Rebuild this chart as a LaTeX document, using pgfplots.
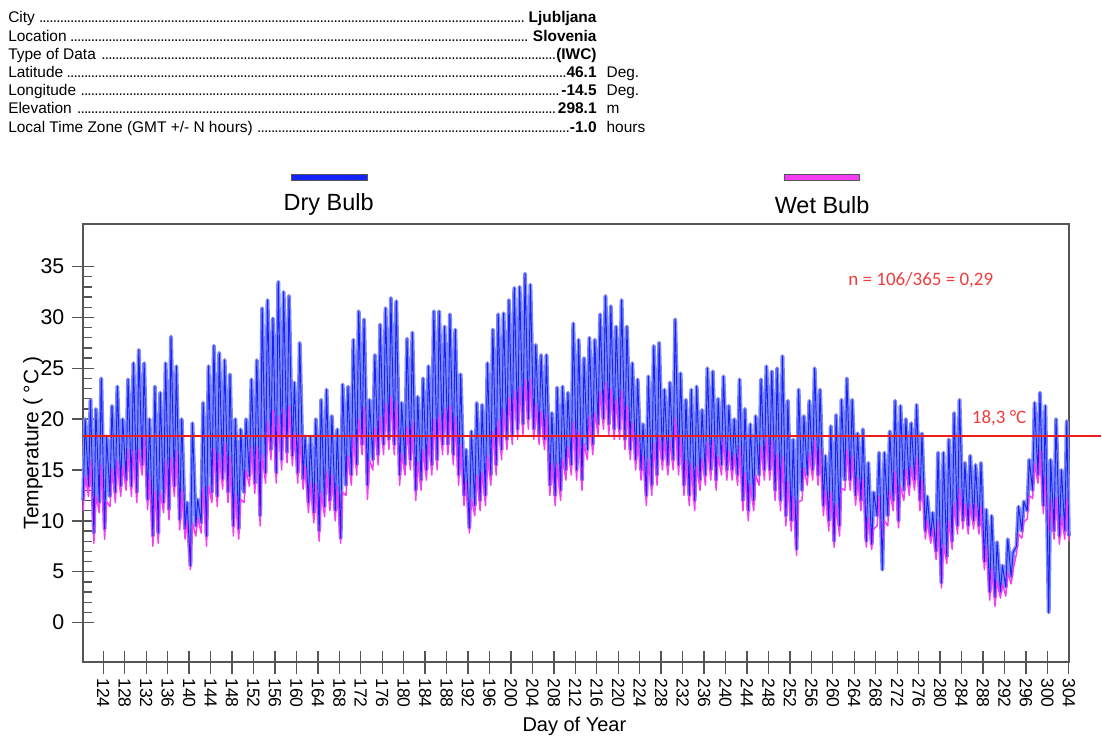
\documentclass[border=0pt]{standalone}
\usepackage{fontspec}
\setmainfont{Liberation Sans}
\newfontfamily\calib{Carlito}
\usepackage{pgfplots}
\usepackage{pgfplotstable}
\pgfplotsset{compat=1.18}

\definecolor{dbl}{RGB}{20,35,250}
\definecolor{lbl}{RGB}{128,138,246}
\definecolor{mag}{RGB}{245,60,245}
\definecolor{rline}{RGB}{235,30,30}
\definecolor{rtxt}{RGB}{240,60,60}
\definecolor{frame}{RGB}{85,85,85}

\newcommand{\dotlead}{\leaders\hbox to 2.6pt{\hss.\hss}\hfill}
\newcommand{\hfont}{\fontsize{11.6}{14}\selectfont}

\pgfplotstableread[row sep=\\]{
x y w\\
120.25 12 11 \\ 120.62 20 14.4 \\
121.25 13.4 12.4 \\ 121.62 21.9 15.9 \\
122.25 8.8 7.8 \\ 122.62 21 12.5 \\
123.25 11.8 10.8 \\ 123.62 24 15.5 \\
124.25 9.2 8.2 \\ 124.62 18.3 11.9 \\
125.25 12.4 11.4 \\ 125.62 21.3 15.1 \\
126.25 12.8 11.8 \\ 126.62 23.2 15.9 \\
127.25 13.4 12.4 \\ 127.62 20 15.4 \\
128.25 14 13 \\ 128.62 23.9 17 \\
129.25 13.4 12.4 \\ 129.62 25.5 17 \\
130.25 12.8 11.8 \\ 130.62 26.8 17 \\
131.25 15.5 14.5 \\ 131.62 25.5 18.5 \\
132.25 12.1 11.1 \\ 132.62 20 14.5 \\
133.25 8.5 7.5 \\ 133.62 23.2 12.9 \\
134.25 8.8 7.8 \\ 134.62 22.6 12.9 \\
135.25 11.8 10.8 \\ 135.62 25.5 15.9 \\
136.25 11.1 10.1 \\ 136.62 28.1 16.2 \\
137.25 13.4 12.4 \\ 137.62 25.2 16.9 \\
138.25 10.1 9.1 \\ 138.62 20 13.1 \\
139.25 9.2 8.2 \\ 139.62 11.8 10 \\
140.25 5.6 5.2 \\ 140.62 19.6 9.8 \\
141.25 9.5 8.5 \\ 141.62 12.1 10.3 \\
142.25 9.8 8.8 \\ 142.62 21.6 13.3 \\
143.25 8.5 7.5 \\ 143.62 25.2 13.5 \\
144.25 12.8 11.8 \\ 144.62 27.2 17.1 \\
145.25 12.4 11.4 \\ 145.62 26.5 16.6 \\
146.25 14.1 13.1 \\ 146.62 25.8 17.6 \\
147.25 12.8 11.8 \\ 147.62 24.4 16.3 \\
148.25 9.5 8.5 \\ 148.62 20 12.7 \\
149.25 9.2 8.2 \\ 149.62 19 12.1 \\
150.25 12.8 11.8 \\ 150.62 20 15 \\
151.25 14.4 13.4 \\ 151.62 23.9 17.3 \\
152.25 13.7 12.7 \\ 152.62 25.8 17.3 \\
153.25 10.5 9.5 \\ 153.62 30.9 16.6 \\
154.25 14.7 13.7 \\ 154.62 31.7 19.8 \\
155.25 17 16 \\ 155.62 29.9 20.9 \\
156.25 14.7 13.7 \\ 156.62 33.5 20.3 \\
157.25 16 15 \\ 157.62 32.5 21 \\
158.25 16.7 15.7 \\ 158.62 32.1 21.3 \\
159.25 16.4 15.4 \\ 159.62 23.6 18.6 \\
160.25 14.7 13.7 \\ 160.62 27.5 18.5 \\
161.25 14.1 13.1 \\ 161.62 18.3 15.4 \\
162.25 11.8 10.8 \\ 162.62 18.3 13.8 \\
163.25 10.8 9.8 \\ 163.62 20 13.6 \\
164.25 9 8 \\ 164.62 21.9 12.9 \\
165.25 11.4 10.4 \\ 165.62 22.9 14.9 \\
166.25 12 11 \\ 166.62 20.3 14.5 \\
167.25 11 10 \\ 167.62 19 13.4 \\
168.25 8.3 7.8 \\ 168.62 23.4 12.8 \\
169.25 13.5 12.5 \\ 169.62 23.2 16.4 \\
170.25 14.5 13.5 \\ 170.62 27.8 18.5 \\
171.25 15.5 14.5 \\ 171.62 30.6 20 \\
172.25 17.5 16.5 \\ 172.62 29.8 21.2 \\
173.25 13.5 12.1 \\ 173.62 21.9 16 \\
174.25 16 15 \\ 174.62 26.3 19.1 \\
175.25 16.5 15.5 \\ 175.62 29.3 20.3 \\
176.25 17.5 16.5 \\ 176.62 30.9 21.5 \\
177.25 18 17 \\ 177.62 31.9 22.2 \\
178.25 17.5 16.5 \\ 178.62 31.6 21.7 \\
179.25 14.5 13.5 \\ 179.62 21.6 16.6 \\
180.25 15.5 14.5 \\ 180.62 27.9 19.2 \\
181.25 16 15 \\ 181.62 28.5 19.8 \\
182.25 13 12 \\ 182.62 22.2 15.8 \\
183.25 14 13 \\ 183.62 24 17 \\
184.25 15 14 \\ 184.62 25.2 18.1 \\
185.25 15.5 14.5 \\ 185.62 30.6 20 \\
186.25 16 15 \\ 186.62 30.6 20.4 \\
187.25 17.5 16.5 \\ 187.62 29.1 21 \\
188.25 17.5 16.5 \\ 188.62 30.3 21.3 \\
189.25 16.5 15.5 \\ 189.62 28.8 20.2 \\
190.25 14.5 13.5 \\ 190.62 24.4 17.5 \\
191.25 12.5 11.5 \\ 191.62 17 13.9 \\
192.25 9.3 8.8 \\ 192.62 18.8 12.2 \\
193.25 11.5 10.5 \\ 193.62 21.6 14.5 \\
194.25 12 11 \\ 194.62 21.4 14.8 \\
195.25 12.5 11.5 \\ 195.62 25.5 16.4 \\
196.25 14.5 13.5 \\ 196.62 28.8 18.8 \\
197.25 15.5 14.5 \\ 197.62 30.3 19.9 \\
198.25 17 16 \\ 198.62 30.4 21 \\
199.25 18 17 \\ 199.62 31.7 22.1 \\
200.25 18.5 17.5 \\ 200.62 32.9 22.8 \\
201.25 19 18 \\ 201.62 33 23.2 \\
202.25 19.5 18.5 \\ 202.62 34.3 23.9 \\
203.25 20 19 \\ 203.62 33.2 24 \\
204.25 19 18 \\ 204.62 27.3 21.5 \\
205.25 18.5 17.5 \\ 205.62 26.3 20.8 \\
206.25 18 17 \\ 206.62 26.3 20.5 \\
207.25 13.5 12.5 \\ 207.62 20.6 15.6 \\
208.25 12.5 11.5 \\ 208.62 23.1 15.7 \\
209.25 13 12 \\ 209.62 23.2 16.1 \\
210.25 15 14 \\ 210.62 22.6 17.3 \\
211.25 15.5 14.5 \\ 211.62 29.4 19.7 \\
212.25 15 14 \\ 212.62 27.8 18.8 \\
213.25 14 13 \\ 213.62 26 17.6 \\
214.25 17 16 \\ 214.62 28 20.3 \\
215.25 17.5 16.5 \\ 215.62 27.8 20.6 \\
216.25 19.5 18.5 \\ 216.62 30.3 22.7 \\
217.25 20 19 \\ 217.62 32.1 23.6 \\
218.25 19.5 18.5 \\ 218.62 31.1 23 \\
219.25 19 18 \\ 219.62 29.1 22 \\
220.25 19 18 \\ 220.62 31.7 22.8 \\
221.25 18 17 \\ 221.62 29.1 21.3 \\
222.25 17 16 \\ 222.62 25.5 19.6 \\
223.25 16 15 \\ 223.62 23.9 18.4 \\
224.25 15 14 \\ 224.62 19.5 16.4 \\
225.25 12.5 11.5 \\ 225.62 24.2 16 \\
226.25 13.5 12.5 \\ 226.62 27.2 17.6 \\
227.25 14.5 13.5 \\ 227.62 27.5 18.4 \\
228.25 16 15 \\ 228.62 22.9 18.1 \\
229.25 15.5 14.5 \\ 229.62 23.6 17.9 \\
230.25 16 15 \\ 230.62 29.8 20.1 \\
231.25 15.5 14.5 \\ 231.62 24.5 18.2 \\
232.25 13.5 12.5 \\ 232.62 21.9 16 \\
233.25 12.5 11.5 \\ 233.62 22.9 15.6 \\
234.25 12 11 \\ 234.62 23.2 15.4 \\
235.25 14 13 \\ 235.62 20.9 16.1 \\
236.25 14.5 13.5 \\ 236.62 25 17.7 \\
237.25 15 14 \\ 237.62 24.7 17.9 \\
238.25 14 13 \\ 238.62 22 16.4 \\
239.25 15.5 14.5 \\ 239.62 24.2 18.1 \\
240.25 15 14 \\ 240.62 21.3 16.9 \\
241.25 15 14 \\ 241.62 20 16.5 \\
242.25 14.5 13.5 \\ 242.62 23.9 17.3 \\
243.25 12 11 \\ 243.62 21 14.7 \\
244.25 11 10 \\ 244.62 19.5 13.6 \\
245.25 12 11 \\ 245.62 20.3 14.5 \\
246.25 14.5 13.5 \\ 246.62 23.9 17.3 \\
247.25 15 14 \\ 247.62 25.2 18.1 \\
248.25 15 14 \\ 248.62 24.7 17.9 \\
249.25 13 12 \\ 249.62 25 16.6 \\
250.25 12 11 \\ 250.62 26.2 16.3 \\
251.25 10.5 9.5 \\ 251.62 21.8 13.9 \\
252.25 10 9 \\ 252.62 18 12.4 \\
253.25 7.2 6.6 \\ 253.62 22.9 11.9 \\
254.25 13 12 \\ 254.62 20.3 15.2 \\
255.25 14.5 13.5 \\ 255.62 21.8 16.7 \\
256.25 15 14 \\ 256.62 25 18 \\
257.25 14.5 13.5 \\ 257.62 22.9 17 \\
258.25 11.5 10.5 \\ 258.62 16.4 13 \\
259.25 10 9 \\ 259.62 19.3 12.8 \\
260.25 8 7.4 \\ 260.62 20.4 11.7 \\
261.25 9.5 8.5 \\ 261.62 21.9 13.2 \\
262.25 14 13 \\ 262.62 24 17 \\
263.25 14 13 \\ 263.62 21.9 16.4 \\
264.25 12.5 11.5 \\ 264.62 18.6 14.3 \\
265.25 12 11 \\ 265.62 19 14.1 \\
266.25 8 7.4 \\ 266.62 15.7 10.3 \\
267.25 7.7 7.2 \\ 267.62 12.8 9.2 \\
268.25 10.5 9.5 \\ 268.62 16.7 12.4 \\
269.25 5.2 7 \\ 269.62 16.7 10 \\
270.25 10.5 9.5 \\ 270.62 18.8 13 \\
271.25 12 11 \\ 271.62 21.8 14.9 \\
272.25 10 9.3 \\ 272.62 21.3 13.4 \\
273.25 13 12 \\ 273.62 20 15.1 \\
274.25 13.5 12.5 \\ 274.62 19.6 15.3 \\
275.25 14 13 \\ 275.62 21.4 16.2 \\
276.25 12 11 \\ 276.62 18.6 14 \\
277.25 9 8.2 \\ 277.62 12.4 10 \\
278.25 8.5 7.8 \\ 278.62 10.8 9.2 \\
279.25 7 6.2 \\ 279.62 16.7 9.9 \\
280.25 3.9 3.4 \\ 280.62 16.7 7.7 \\
281.25 6.5 5.8 \\ 281.62 18 10 \\
282.25 8 7.2 \\ 282.62 20.6 11.8 \\
283.25 9.5 8.7 \\ 283.62 21.9 13.2 \\
284.25 10 9.2 \\ 284.62 15.7 11.7 \\
285.25 9.5 8.7 \\ 285.62 16.4 11.6 \\
286.25 10 9.2 \\ 286.62 15.5 11.7 \\
287.25 9.5 8.7 \\ 287.62 15.7 11.4 \\
288.25 6 5.2 \\ 288.62 11.1 7.5 \\
289.25 3 2.2 \\ 289.62 10.5 5.3 \\
290.25 2.5 1.6 \\ 290.62 7.9 4.1 \\
291.25 3 2.4 \\ 291.62 5.6 3.8 \\
292.25 3.5 2.6 \\ 292.62 8.2 4.9 \\
293.25 4.5 3.8 \\ 293.62 6.9 5.2 \\
294.25 7.5 6.8 \\ 294.62 11.4 8.7 \\
295.25 9 8.3 \\ 295.62 11.9 9.9 \\
296.25 11 10.2 \\ 296.62 16 12.5 \\
297.25 13 12.2 \\ 297.62 21.6 15.6 \\
298.25 14.5 13.7 \\ 298.62 22.6 16.9 \\
299.25 11.5 10.7 \\ 299.62 21.3 14.4 \\
300.25 1 9 \\ 300.62 16 12 \\
301.25 9 8.2 \\ 301.62 20 12.3 \\
302.25 8.5 7.7 \\ 302.62 15 10.5 \\
303.25 9 8.2 \\ 303.62 19.8 12.2 \\
304 8.5 8 \\
}\data

\begin{document}
\begin{tikzpicture}
\begin{scope}[x=0.75pt,y=-0.75pt]
\path[use as bounding box] (0,0) rectangle (1102,738);
% header
\node[anchor=base west, inner sep=0] at (8,23) {\hfont\makebox[441.75pt][l]{City\,\dotlead\,\textbf{Ljubljana}}};
\node[anchor=base west, inner sep=0] at (8,41.2) {\hfont\makebox[441.75pt][l]{Location\,\dotlead\,\textbf{Slovenia}}};
\node[anchor=base west, inner sep=0] at (8,59.4) {\hfont\makebox[441.75pt][l]{Type of Data\,\dotlead\textbf{(IWC)}}};
\node[anchor=base west, inner sep=0] at (8,77.6) {\hfont\makebox[441.75pt][l]{Latitude\,\dotlead\textbf{46.1}}};
\node[anchor=base west, inner sep=0] at (8,95.8) {\hfont\makebox[441.75pt][l]{Longitude\,\dotlead\textbf{-14.5}}};
\node[anchor=base west, inner sep=0] at (8,114) {\hfont\makebox[441.75pt][l]{Elevation\,\dotlead\textbf{298.1}}};
\node[anchor=base west, inner sep=0] at (8,132.2) {\hfont\makebox[441.75pt][l]{Local Time Zone (GMT +/- N hours)\,\dotlead\textbf{-1.0}}};
\node[anchor=base west, inner sep=0] at (607,77.6) {\hfont Deg.};
\node[anchor=base west, inner sep=0] at (607,95.8) {\hfont Deg.};
\node[anchor=base west, inner sep=0] at (607,114) {\hfont m};
\node[anchor=base west, inner sep=0] at (607,132.2) {\hfont hours};
% legend
\draw[frame, fill=dbl, line width=0.7pt] (292,174.5) rectangle (368,181);
\node[inner sep=0, font=\fontsize{17.6}{20}\selectfont] at (329,205) {Dry Bulb};
\draw[frame, fill=mag, line width=0.7pt] (785,174.5) rectangle (860,181);
\node[inner sep=0, font=\fontsize{17.6}{20}\selectfont] at (823,205) {Wet Bulb};
\end{scope}

\begin{axis}[
  at={(62.25pt,-497.25pt)}, anchor=south west,
  scale only axis, width=740.25pt, height=329.25pt,
  xmin=120.2, xmax=304, ymin=-3.9, ymax=39.2,
  clip=false,
  axis line style={frame, line width=1.3pt},
  xtick={124,128,...,304},
  ytick={0,5,...,35},
  minor y tick num=4,
  xtick pos=bottom, ytick pos=left,
  tick align=center,
  major tick length=17pt,
  minor tick length=7pt,
  tick style={frame, line width=1pt},
  minor tick style={xshift=3.5pt},
  /pgf/number format/assume math mode=true,
  xticklabel style={rotate=-90, anchor=west, font=\fontsize{13.2}{14}\selectfont},
  yticklabel style={font=\fontsize{16}{18}\selectfont, xshift=-2pt},
  xlabel={Day of Year}, ylabel={Temperature ( °C )},
  xlabel style={at={(axis description cs:0.4985,-0.1458)}, anchor=center, font=\fontsize{15}{18}\selectfont},
  ylabel style={at={(axis description cs:-0.0507,0.5)}, anchor=center, font=\fontsize{15.75}{18}\selectfont},
]
\addplot[lbl, line width=3pt, line join=round, no markers] table[x=x,y=y] {\data};
\addplot[mag, line width=1.1pt, line join=round, no markers] table[x=x,y=w] {\data};
\addplot[dbl, line width=0.7pt, line join=round, no markers] table[x=x,y=y] {\data};
\addplot[rline, line width=1.5pt, no markers] coordinates {(120.2,18.3) (310,18.3)};
\node[rtxt, inner sep=0, font=\calib\fontsize{14.25}{16}\selectfont] at (axis cs:276.4,33.7) {n = 106/365 = 0,29};
\node[rtxt, inner sep=0, font=\calib\fontsize{14.25}{16}\selectfont] at (axis cs:291,20.05) {18,3 °C};
\end{axis}
\end{tikzpicture}
\end{document}
